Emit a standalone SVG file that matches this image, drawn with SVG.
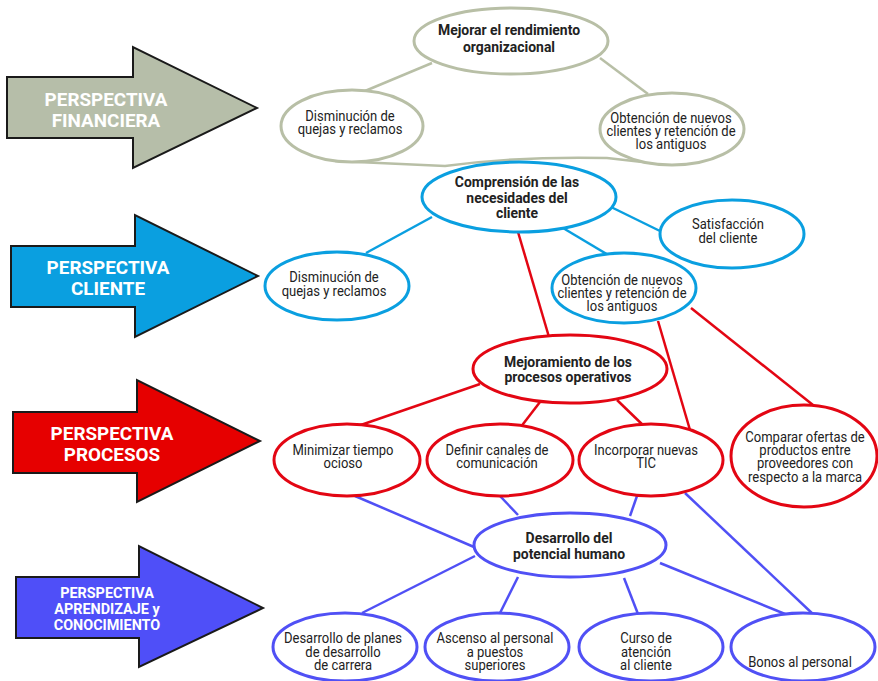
<svg xmlns="http://www.w3.org/2000/svg" width="878" height="681" viewBox="0 0 878 681">
<style>
.arrow{stroke:#1a1a1a;stroke-width:2;stroke-linejoin:miter}
.at{font-family:Roboto,"Liberation Sans",sans-serif;font-weight:bold;fill:#fff;text-anchor:middle}
.n{fill:#fff;stroke-width:3}
.g{stroke:#b8bfa6}
.b{stroke:#0a9fe0}
.r{stroke:#e30613}
.p{stroke:#5050f5}
.t{font-family:Roboto,"Liberation Sans",sans-serif;font-size:14px;fill:#222;text-anchor:middle}
.tb{font-weight:bold;font-size:15px}
.c line,.c path{stroke-width:2.5;fill:none}
</style>
<rect width="878" height="681" fill="#fff"/>
<g id="arrows">
<g id="arrow-financiera">
<polygon class="arrow" fill="#b6bea9" points="7,77 133,77 133,47 257,108 133,168 133,138 7,138"/>
<text class="at" font-size="18.5" transform="translate(106 0) scale(1.02 1)"><tspan x="0" y="106">PERSPECTIVA</tspan><tspan x="0" y="127">FINANCIERA</tspan></text>
</g>
<g id="arrow-cliente">
<polygon class="arrow" fill="#0a9fe0" points="11,246 135,246 135,215 258,276 135,337 135,307 11,307"/>
<text class="at" font-size="18.5" transform="translate(108 0) scale(1.02 1)"><tspan x="0" y="274">PERSPECTIVA</tspan><tspan x="0" y="295">CLIENTE</tspan></text>
</g>
<g id="arrow-procesos">
<polygon class="arrow" fill="#e60000" points="13,412 137,412 137,380 260,441 137,502 137,473 13,473"/>
<text class="at" font-size="18.5" transform="translate(112 0) scale(1.02 1)"><tspan x="0" y="440">PERSPECTIVA</tspan><tspan x="0" y="461">PROCESOS</tspan></text>
</g>
<g id="arrow-aprendizaje">
<polygon class="arrow" fill="#4f4ff8" points="16,577 139,577 139,546 263,608 139,667 139,638 16,638"/>
<text class="at" font-size="15" transform="translate(107 0) scale(0.96 1)"><tspan x="0" y="598">PERSPECTIVA</tspan><tspan x="0" y="614">APRENDIZAJE y</tspan><tspan x="0" y="630">CONOCIMIENTO</tspan></text>
</g>
</g>
<g id="connectors" class="c">
<line class="g" x1="432" y1="63" x2="365" y2="91"/>
<line class="g" x1="600" y1="58" x2="648" y2="94"/>
<path class="g" d="M335,161 L445,166 Q520,156 607,158 L660,164"/>
<line class="b" x1="432" y1="217" x2="366" y2="253"/>
<line class="b" x1="563" y1="228" x2="610" y2="256"/>
<line class="b" x1="611" y1="207" x2="662" y2="232"/>
<line class="r" x1="518" y1="232" x2="549" y2="337"/>
<line class="r" x1="658" y1="321" x2="690" y2="430"/>
<line class="r" x1="691" y1="308" x2="813" y2="405"/>
<line class="r" x1="480" y1="384" x2="355" y2="427"/>
<line class="r" x1="540" y1="402" x2="520" y2="428"/>
<line class="r" x1="617" y1="400" x2="647" y2="429"/>
<line class="p" x1="355" y1="496" x2="474" y2="547"/>
<line class="p" x1="500" y1="496" x2="518" y2="515"/>
<line class="p" x1="637" y1="496" x2="630" y2="516"/>
<line class="p" x1="685" y1="493" x2="815" y2="616"/>
<line class="p" x1="475" y1="556" x2="362" y2="613"/>
<line class="p" x1="518" y1="577" x2="500" y2="613"/>
<line class="p" x1="624" y1="578" x2="638" y2="614"/>
<line class="p" x1="660" y1="563" x2="790" y2="616"/>
</g>
<g id="n-mejorar"><ellipse class="n g" cx="511" cy="41" rx="97" ry="33"/>
<text class="t tb" transform="translate(509 0) scale(0.93 1)"><tspan x="0" y="35">Mejorar el rendimiento</tspan><tspan x="0" y="52">organizacional</tspan></text></g>
<g id="n-dism-fin"><ellipse class="n g" cx="352" cy="126" rx="71" ry="36"/>
<text class="t" transform="translate(350 0) scale(0.93 1)"><tspan x="0" y="121">Disminución de</tspan><tspan x="0" y="134">quejas y reclamos</tspan></text></g>
<g id="n-obt-fin"><ellipse class="n g" cx="672" cy="129" rx="72" ry="36"/>
<text class="t" transform="translate(671 0) scale(0.93 1)"><tspan x="0" y="123">Obtención de nuevos</tspan><tspan x="0" y="136">clientes y retención de</tspan><tspan x="0" y="149">los antiguos</tspan></text></g>
<g id="n-comprension"><ellipse class="n b" cx="519" cy="197" rx="97" ry="35"/>
<text class="t tb" transform="translate(517 0) scale(0.93 1)"><tspan x="0" y="187">Comprensión de las</tspan><tspan x="0" y="203">necesidades del</tspan><tspan x="0" y="218">cliente</tspan></text></g>
<g id="n-satisfaccion"><ellipse class="n b" cx="732" cy="234" rx="72" ry="34"/>
<text class="t" transform="translate(728 0) scale(0.93 1)"><tspan x="0" y="229">Satisfacción</tspan><tspan x="0" y="243">del cliente</tspan></text></g>
<g id="n-dism-cli"><ellipse class="n b" cx="337" cy="286" rx="72" ry="34"/>
<text class="t" transform="translate(334 0) scale(0.93 1)"><tspan x="0" y="282">Disminución de</tspan><tspan x="0" y="296">quejas y reclamos</tspan></text></g>
<g id="n-obt-cli"><ellipse class="n b" cx="624" cy="288" rx="72" ry="35"/>
<text class="t" transform="translate(622 0) scale(0.93 1)"><tspan x="0" y="285">Obtención de nuevos</tspan><tspan x="0" y="298">clientes y retención de</tspan><tspan x="0" y="311">los antiguos</tspan></text></g>
<g id="n-mejoramiento"><ellipse class="n r" cx="570" cy="369" rx="97" ry="34"/>
<text class="t tb" transform="translate(568 0) scale(0.93 1)"><tspan x="0" y="367">Mejoramiento de los</tspan><tspan x="0" y="382">procesos operativos</tspan></text></g>
<g id="n-minimizar"><ellipse class="n r" cx="347" cy="460" rx="73" ry="36"/>
<text class="t" transform="translate(343 0) scale(0.93 1)"><tspan x="0" y="455">Minimizar tiempo</tspan><tspan x="0" y="468">ocioso</tspan></text></g>
<g id="n-definir"><ellipse class="n r" cx="500" cy="460" rx="73" ry="36"/>
<text class="t" transform="translate(497 0) scale(0.93 1)"><tspan x="0" y="455">Definir canales de</tspan><tspan x="0" y="468">comunicación</tspan></text></g>
<g id="n-incorporar"><ellipse class="n r" cx="651" cy="460" rx="72" ry="36"/>
<text class="t" transform="translate(646 0) scale(0.93 1)"><tspan x="0" y="455">Incorporar nuevas</tspan><tspan x="0" y="468">TIC</tspan></text></g>
<g id="n-comparar"><ellipse class="n r" cx="804" cy="456" rx="73" ry="51"/>
<text class="t" transform="translate(805 0) scale(0.93 1)"><tspan x="0" y="442">Comparar ofertas de</tspan><tspan x="0" y="455">productos entre</tspan><tspan x="0" y="468">proveedores con</tspan><tspan x="0" y="482">respecto a la marca</tspan></text></g>
<g id="n-desarrollo"><ellipse class="n p" cx="570" cy="545" rx="96" ry="32"/>
<text class="t tb" transform="translate(569 0) scale(0.93 1)"><tspan x="0" y="543">Desarrollo del</tspan><tspan x="0" y="559">potencial humano</tspan></text></g>
<g id="n-planes"><ellipse class="n p" cx="345" cy="647" rx="72" ry="34"/>
<text class="t" transform="translate(343 0) scale(0.93 1)"><tspan x="0" y="643">Desarrollo de planes</tspan><tspan x="0" y="657">de desarrollo</tspan><tspan x="0" y="670">de carrera</tspan></text></g>
<g id="n-ascenso"><ellipse class="n p" cx="497" cy="647" rx="72" ry="34"/>
<text class="t" transform="translate(495 0) scale(0.93 1)"><tspan x="0" y="643">Ascenso al personal</tspan><tspan x="0" y="657">a puestos</tspan><tspan x="0" y="670">superiores</tspan></text></g>
<g id="n-curso"><ellipse class="n p" cx="651" cy="647" rx="72" ry="34"/>
<text class="t" transform="translate(646 0) scale(0.93 1)"><tspan x="0" y="643">Curso de</tspan><tspan x="0" y="657">atención</tspan><tspan x="0" y="670">al cliente</tspan></text></g>
<g id="n-bonos"><ellipse class="n p" cx="803" cy="647" rx="72" ry="34"/>
<text class="t" transform="translate(800 0) scale(0.93 1)"><tspan x="0" y="667">Bonos al personal</tspan></text></g>
</svg>
